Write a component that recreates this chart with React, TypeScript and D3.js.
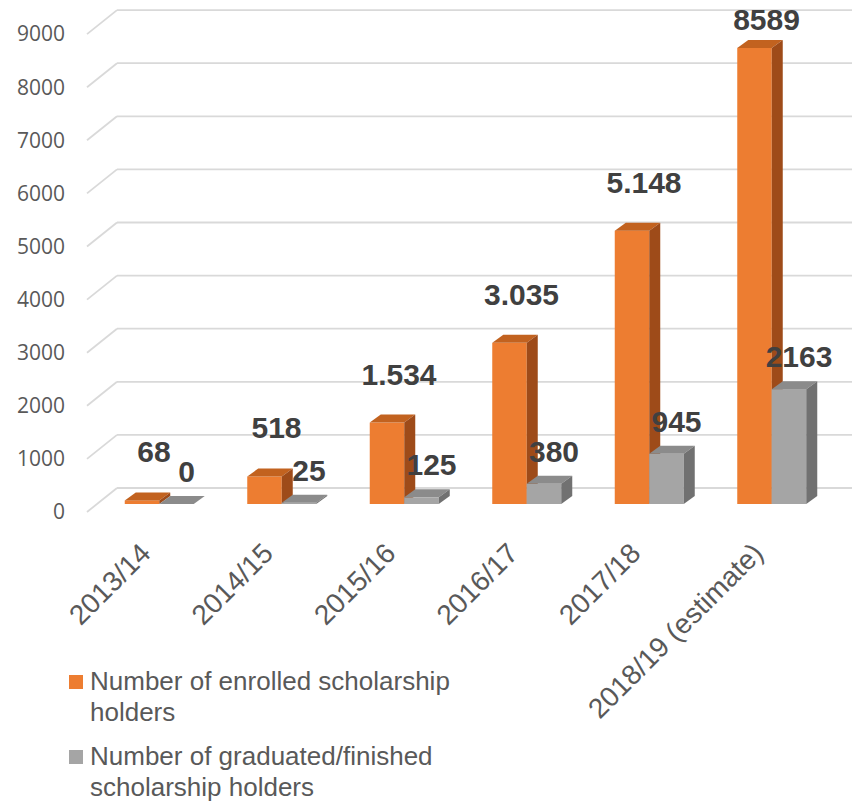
import React from "react";
import * as d3 from "d3";

const categories = ["2013/14", "2014/15", "2015/16", "2016/17", "2017/18", "2018/19 (estimate)"];
const enrolled = [68, 518, 1534, 3035, 5148, 8589];
const graduated = [0, 25, 125, 380, 945, 2163];
const enrolledLabels = ["68", "518", "1.534", "3.035", "5.148", "8589"];
const graduatedLabels = ["0", "25", "125", "380", "945", "2163"];
const yTicks = [0, 1000, 2000, 3000, 4000, 5000, 6000, 7000, 8000, 9000];
const seriesNames = [
  ["Number of enrolled scholarship", "holders"],
  ["Number of graduated/finished", "scholarship holders"],
];

const W = 857;
const H = 801;

const ORANGE = { front: "#ED7D31", top: "#C2621F", side: "#9E4B19" };
const GRAY = { front: "#A5A5A5", top: "#8B8B8B", side: "#717171" };

export default function App() {
  const base = 504;
  const y = d3.scaleLinear().domain([0, 9000]).range([base, base - 9000 * 0.0531]);
  const x = d3.scaleBand<string>().domain(categories).range([98, 833]);
  const barW = 34.5;
  const dx = 11;
  const dy = 8;
  const wallFrontX = 87;
  const wallBackX = 117;
  const wallRight = 852;
  const backOff = -16;
  const frontOff = 8;

  const bar = (x0: number, v: number, c: typeof ORANGE, key: string) => {
    const top = y(v);
    const x1 = x0 + barW;
    return (
      <g key={key}>
        <rect x={x0} y={top} width={barW} height={base - top} fill={c.front} />
        <polygon
          points={`${x0},${top} ${x0 + dx},${top - dy} ${x1 + dx},${top - dy} ${x1},${top}`}
          fill={c.top}
        />
        <polygon
          points={`${x1},${top} ${x1 + dx},${top - dy} ${x1 + dx},${base - dy} ${x1},${base}`}
          fill={c.side}
        />
      </g>
    );
  };

  return (
    <svg
      width={W}
      height={H}
      style={{ position: "absolute", left: 0, top: 0, background: "#fff" }}
      fontFamily="'Liberation Sans', Arial, sans-serif"
    >
      {/* gridlines */}
      {yTicks.map((t) => (
        <g key={"g" + t} stroke="#D9D9D9" strokeWidth={1.8} fill="none">
          <line x1={wallBackX} x2={wallRight} y1={y(t) + backOff} y2={y(t) + backOff} />
          <line x1={wallFrontX} x2={wallBackX} y1={y(t) + frontOff} y2={y(t) + backOff} />
        </g>
      ))}
      {/* y tick labels */}
      {yTicks.map((t) => (
        <text
          key={"t" + t}
          x={65}
          y={y(t) + frontOff}
          dy="0.35em"
          textAnchor="end"
          fontSize={21}
          fill="#595959"
          fontFamily="'Open Sans', sans-serif"
        >
          {t}
        </text>
      ))}
      {/* bars */}
      {categories.map((c, i) => {
        const cx = (x(c) as number) + x.bandwidth() / 2;
        return (
          <g key={"b" + i}>
            {bar(cx - barW, enrolled[i], ORANGE, "o")}
            {bar(cx, graduated[i], GRAY, "g")}
          </g>
        );
      })}
      {/* data labels */}
      {categories.map((c, i) => {
        const cx = (x(c) as number) + x.bandwidth() / 2;
        return (
          <g key={"l" + i} fontSize={30} fontWeight="bold" fill="#404040" textAnchor="middle">
            <text x={cx - barW / 2 + 12} y={Math.max(y(enrolled[i]) - 38, 30)}>
              {enrolledLabels[i]}
            </text>
            <text x={cx + barW / 2 + 10} y={y(graduated[i]) - 22}>
              {graduatedLabels[i]}
            </text>
          </g>
        );
      })}
      {/* x labels */}
      {categories.map((c) => {
        const cx = (x(c) as number) + x.bandwidth() / 2;
        return (
          <text
            key={"x" + c}
            transform={`translate(${cx - 7},${555}) rotate(-45)`}
            textAnchor="end"
            fontSize={28}
            fill="#595959"
          >
            {c}
          </text>
        );
      })}
      {/* legend */}
      {seriesNames.map((lines, i) => {
        const y0 = 690 + i * 75;
        const col = i === 0 ? ORANGE.front : GRAY.front;
        return (
          <g key={"lg" + i}>
            <rect x={69} y={y0 - 15} width={14} height={14} fill={col} />
            {lines.map((ln, j) => (
              <text key={j} x={90} y={y0 + j * 31} fontSize={26} fill="#595959">
                {ln}
              </text>
            ))}
          </g>
        );
      })}
    </svg>
  );
}
